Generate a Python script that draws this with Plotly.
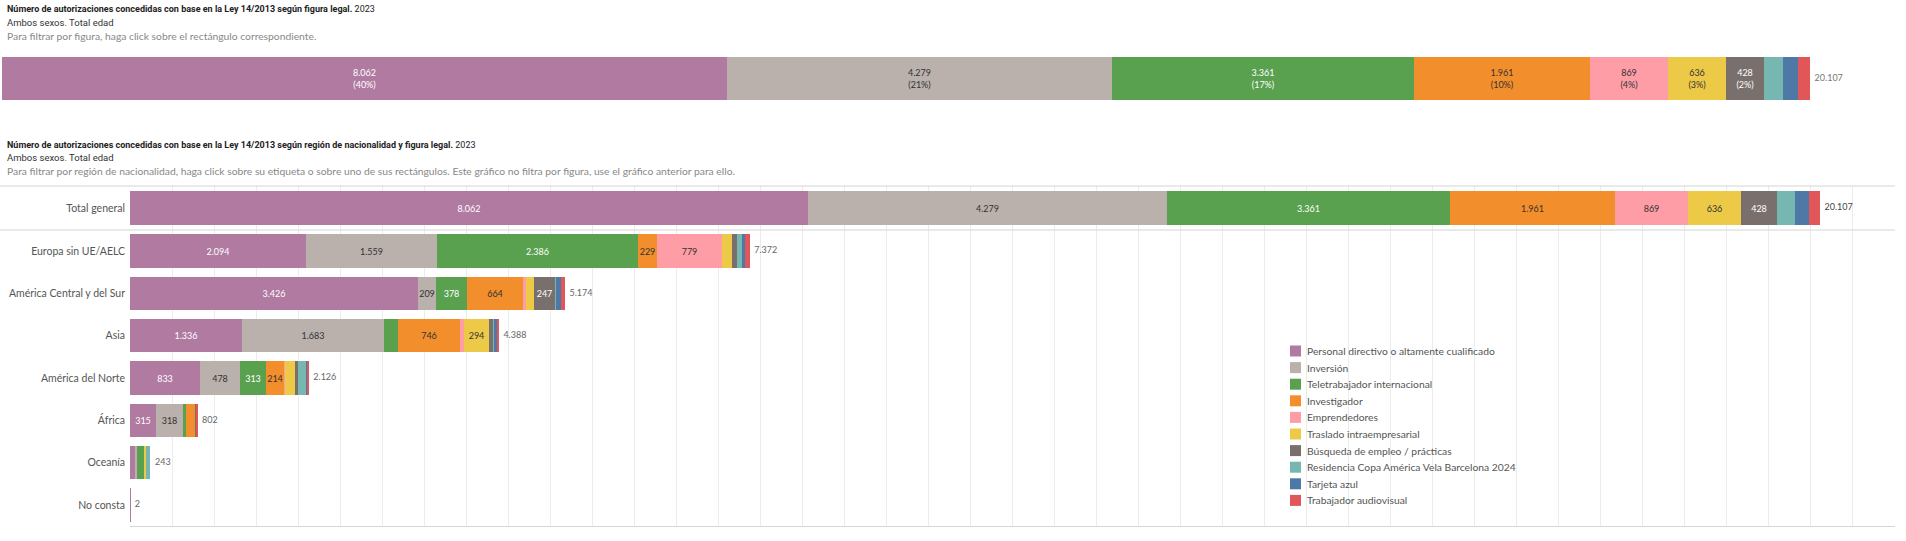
import plotly.graph_objects as go

W, H = 1906, 541

categories = [
    "Personal directivo o altamente cualificado",
    "Inversión",
    "Teletrabajador internacional",
    "Investigador",
    "Emprendedores",
    "Traslado intraempresarial",
    "Búsqueda de empleo / prácticas",
    "Residencia Copa América Vela Barcelona 2024",
    "Tarjeta azul",
    "Trabajador audiovisual",
]
colors = ["#B07AA1", "#BAB0AC", "#59A14F", "#F28E2B", "#FF9DA7",
          "#EDC948", "#79706E", "#76B7B2", "#4E79A7", "#E15759"]
label_colors = ["#ffffff", "#333333", "#ffffff", "#333333", "#333333",
                "#333333", "#ffffff", "#333333", "#ffffff", "#ffffff"]

regions = ["Europa sin UE/AELC", "América Central y del Sur", "Asia",
           "América del Norte", "África", "Oceanía", "No consta"]

personal = [2094, 3426, 1336, 833, 315, 56, 2]
inversion = [1559, 209, 1683, 478, 318, 32, 0]
teletrabajador = [2386, 378, 165, 313, 38, 81, 0]
investigador = [229, 664, 746, 214, 108, 0, 0]
emprendedores = [779, 40, 45, 5, 0, 0, 0]
traslado = [113, 95, 294, 116, 0, 18, 0]
busqueda = [66, 247, 55, 45, 15, 0, 0]
residencia = [50, 4, 10, 90, 0, 56, 0]
tarjeta = [41, 67, 40, 20, 0, 0, 0]
audiovisual = [55, 44, 14, 12, 8, 0, 0]

series = [personal, inversion, teletrabajador, investigador, emprendedores,
          traslado, busqueda, residencia, tarjeta, audiovisual]

cat_totals = [sum(s) for s in series]
grand_total = sum(cat_totals)
region_totals = [sum(s[i] for s in series) for i in range(len(regions))]


def fmt(v):
    return f"{v:,}".replace(",", ".")


def py(px):
    return 1 - px / H


def pxx(px):
    return px / W


FONT = "Lato, 'Open Sans', sans-serif"
TITLE = "Roboto, 'Open Sans', sans-serif"

fig = go.Figure()

for k, cat in enumerate(categories):
    v = cat_totals[k]
    pct = round(v / grand_total * 100)
    # top chart
    fig.add_trace(go.Bar(
        x=[v], y=["t"], orientation="h", xaxis="x", yaxis="y",
        marker=dict(color=colors[k], line=dict(width=0)), width=1,
        text=[f"{fmt(v)}<br>({pct}%)" if v >= 300 else ""],
        texttemplate="%{text}", textposition="inside",
        insidetextanchor="middle", textangle=0,
        textfont=dict(family=FONT, size=9, color=label_colors[k]),
        showlegend=False, hoverinfo="skip",
    ))
    # total general row
    fig.add_trace(go.Bar(
        x=[v], y=["Total general"], orientation="h", xaxis="x2", yaxis="y2",
        marker=dict(color=colors[k], line=dict(width=0)), width=0.77,
        text=[fmt(v) if v >= 300 else ""],
        texttemplate="%{text}", textposition="inside",
        insidetextanchor="middle", textangle=0,
        textfont=dict(family=FONT, size=9, color=label_colors[k]),
        showlegend=False, hoverinfo="skip",
    ))
    # regions
    vals = series[k]
    fig.add_trace(go.Bar(
        x=vals, y=regions, orientation="h", xaxis="x3", yaxis="y3",
        marker=dict(color=colors[k], line=dict(width=0)), width=0.79,
        text=[fmt(x) if x >= 200 else "" for x in vals],
        texttemplate="%{text}", textposition="inside",
        insidetextanchor="middle", textangle=0,
        textfont=dict(family=FONT, size=9, color=label_colors[k]),
        showlegend=False, hoverinfo="skip",
    ))

# total labels
fig.add_trace(go.Scatter(
    x=[grand_total], y=["t"], xaxis="x", yaxis="y", mode="text",
    text=["  " + fmt(grand_total)], textposition="middle right",
    textfont=dict(family=FONT, size=9, color="#777777"),
    showlegend=False, hoverinfo="skip", cliponaxis=False,
))
fig.add_trace(go.Scatter(
    x=[grand_total], y=["Total general"], xaxis="x2", yaxis="y2", mode="text",
    text=["  " + fmt(grand_total)], textposition="middle right",
    textfont=dict(family=FONT, size=9, color="#444444"),
    showlegend=False, hoverinfo="skip", cliponaxis=False,
))
fig.add_trace(go.Scatter(
    x=region_totals, y=regions, xaxis="x3", yaxis="y3", mode="text",
    text=["  " + fmt(t) for t in region_totals], textposition="middle right",
    textfont=dict(family=FONT, size=9, color="#666666"),
    showlegend=False, hoverinfo="skip", cliponaxis=False,
))

XMAX = 21000
grid = dict(showgrid=True, gridcolor="#ececec", gridwidth=1, dtick=500, tick0=0,
            showticklabels=False, ticks="", zeroline=False, range=[0, XMAX],
            fixedrange=True)

fig.update_layout(
    width=W, height=H, margin=dict(l=0, r=0, t=0, b=0),
    paper_bgcolor="white", plot_bgcolor="white",
    barmode="stack", bargap=0,
    uniformtext=dict(minsize=9, mode="show"),
    xaxis=dict(domain=[pxx(2), pxx(1810)], range=[0, grand_total], visible=False),
    yaxis=dict(domain=[py(100), py(57)], range=[-0.5, 0.5], visible=False),
    xaxis2=dict(domain=[pxx(130), pxx(1895)], anchor="y2", **grid),
    yaxis2=dict(domain=[py(230), py(186)], anchor="x2", range=[-0.5, 0.5],
                showgrid=False, ticks="", ticklabelstandoff=4,
                tickfont=dict(family=FONT, size=10.5, color="#555555")),
    xaxis3=dict(domain=[pxx(130), pxx(1895)], anchor="y3", showline=True,
                linecolor="#d4d4d4", linewidth=1, **grid),
    yaxis3=dict(domain=[py(526), py(230)], anchor="x3", range=[6.5, -0.5],
                categoryorder="array", categoryarray=regions,
                showgrid=False, ticks="", ticklabelstandoff=4,
                tickfont=dict(family=FONT, size=10.5, color="#555555")),
    font=dict(family=FONT),
)

# separator lines of the second chart
for ypx in (186, 230):
    fig.add_shape(type="line", xref="paper", yref="paper",
                  x0=0, x1=pxx(1895), y0=py(ypx), y1=py(ypx),
                  line=dict(color="#d4d4d4", width=1))

# titles
texts = [
    (9, "<b>Número de autorizaciones concedidas con base en la Ley 14/2013 según figura legal.</b> 2023",
     TITLE, 9, "#222222"),
    (23, "Ambos sexos. Total edad", TITLE, 9.5, "#333333"),
    (36, "Para filtrar por figura, haga click sobre el rectángulo correspondiente.",
     FONT, 10.3, "#888888"),
    (145, "<b>Número de autorizaciones concedidas con base en la Ley 14/2013 según región de nacionalidad y figura legal.</b> 2023",
     TITLE, 9, "#222222"),
    (158, "Ambos sexos. Total edad", TITLE, 9.5, "#333333"),
    (171, "Para filtrar por región de nacionalidad, haga click sobre su etiqueta o sobre uno de sus rectángulos. Este gráfico no filtra por figura, use el gráfico anterior para ello.",
     FONT, 10.3, "#888888"),
]
for ypx, t, fam, sz, col in texts:
    fig.add_annotation(xref="paper", yref="paper", x=pxx(5), y=py(ypx),
                       xanchor="left", yanchor="middle", showarrow=False,
                       text=t, font=dict(family=fam, size=sz, color=col))

# manual legend
LEG_X, LEG_Y0, LEG_DY, SW = 1290, 351, 16.6, 11
for k, cat in enumerate(categories):
    cy = LEG_Y0 + k * LEG_DY
    fig.add_shape(type="rect", xref="paper", yref="paper",
                  x0=pxx(LEG_X), x1=pxx(LEG_X + SW),
                  y0=py(cy + SW / 2), y1=py(cy - SW / 2),
                  fillcolor=colors[k], line=dict(width=0))
    fig.add_annotation(xref="paper", yref="paper", x=pxx(LEG_X + SW + 4), y=py(cy),
                       xanchor="left", yanchor="middle", showarrow=False,
                       text=cat, font=dict(family=FONT, size=10.3, color="#555555"))

fig.write_html("out.html", config={"displayModeBar": False},
               post_script="document.body.style.margin='0';document.body.style.overflow='hidden';")
